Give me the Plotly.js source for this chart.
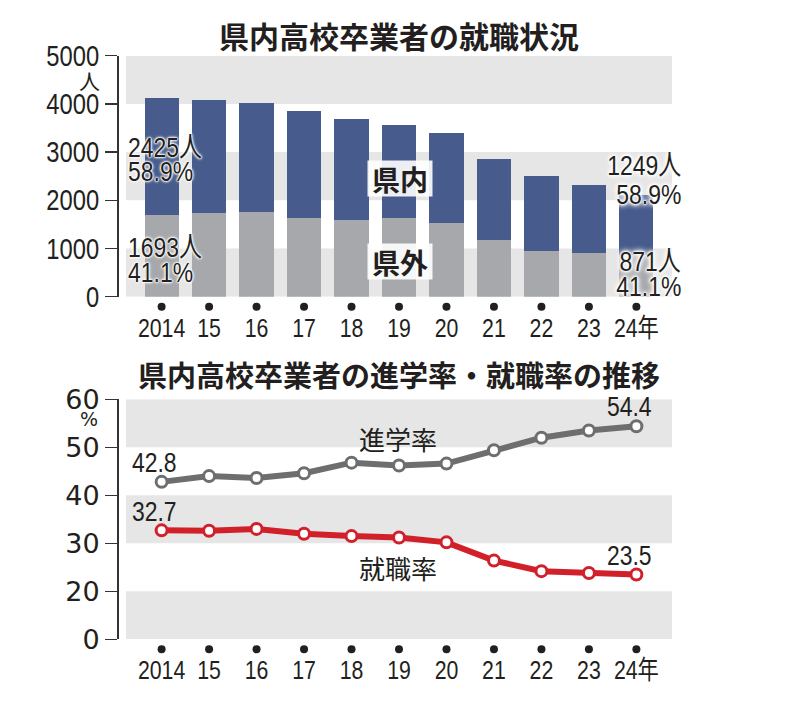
<!DOCTYPE html>
<html><head><meta charset="utf-8">
<script src="https://cdn.plot.ly/plotly-3.0.1.min.js"></script>
<style>body{margin:0;background:#fff}</style>
</head><body><div id="chart" style="width:810px;height:702px"></div>
<script>
// ---- data ----
const years = ['2014','15','16','17','18','19','20','21','22','23','24年'];
const kengai = [1693,1731,1752,1640,1599,1627,1537,1177,949,900,871];      // 県外 (gray)
const kennai = [2425,2352,2276,2222,2083,1944,1855,1688,1557,1413,1249];   // 県内 (blue)
const shingaku = [42.8,44.0,43.6,44.6,46.8,46.2,46.6,49.4,52.0,53.5,54.4]; // 進学率
const shushoku = [32.7,32.6,33.0,32.0,31.5,31.2,30.2,26.4,24.2,23.8,23.5]; // 就職率
const topTicks = [0,1000,2000,3000,4000,5000];
const botTickVals = [10,20,30,40,50,60];
const botTickText = ['0','20','30','40','50','60'];

// ---- style ----
const W = 810, H = 702;
const NARROW = '"Liberation Sans","Noto Sans CJK JP",sans-serif';
const CJK = '"Noto Sans CJK JP",sans-serif';
const INK = '#231f20';
const BAND = '#e6e6e6';
const SQUEEZE = 0.82;
const py = p => 1 - p / H;
const px = p => p / W;

const traces = [
  {type:'bar', x: years, y: kengai, marker:{color:'#a7a8ab'}, xaxis:'x', yaxis:'y', hoverinfo:'skip'},
  {type:'bar', x: years, y: kennai, marker:{color:'#475c8c'}, xaxis:'x', yaxis:'y', hoverinfo:'skip'},
  {type:'scatter', mode:'lines+markers', x: years, y: shingaku, xaxis:'x2', yaxis:'y2', cliponaxis:false,
   line:{color:'#6d6e70', width:6}, marker:{size:11, color:'#fff', line:{color:'#6d6e70', width:3}}},
  {type:'scatter', mode:'lines+markers', x: years, y: shushoku, xaxis:'x2', yaxis:'y2', cliponaxis:false,
   line:{color:'#d2202a', width:6}, marker:{size:11, color:'#fff', line:{color:'#d2202a', width:3}}}
];

const shapes = [];
[[4000,5000],[2000,3000],[0,1000]].forEach(b => shapes.push({type:'rect', layer:'below', xref:'x domain', x0:0, x1:1, yref:'y', y0:b[0], y1:b[1], fillcolor:BAND, line:{width:0}}));
[[50,60],[30,40],[10,20]].forEach(b => shapes.push({type:'rect', layer:'below', xref:'x2 domain', x0:0, x1:1, yref:'y2', y0:b[0], y1:b[1], fillcolor:BAND, line:{width:0}}));
years.forEach((c, i) => {
  shapes.push({type:'circle', xref:'x', xsizemode:'pixel', xanchor:i, x0:-4, x1:4, yref:'paper', ysizemode:'pixel', yanchor:py(306.7), y0:-4, y1:4, fillcolor:INK, line:{width:0}});
  shapes.push({type:'circle', xref:'x2', xsizemode:'pixel', xanchor:i, x0:-4, x1:4, yref:'paper', ysizemode:'pixel', yanchor:py(649.3), y0:-4, y1:4, fillcolor:INK, line:{width:0}});
});

const last = years.length - 1;
const tot0 = kengai[0] + kennai[0], totL = kengai[last] + kennai[last];
const pct = (a, t) => (a / t * 100).toFixed(1) + '%';
const ann = [];
function T(text, x, y, size, opt) {
  ann.push(Object.assign({text, xref:'paper', yref:'paper', x:px(x), y:py(y), xanchor:'center', yanchor:'middle', showarrow:false,
    font:{family:NARROW, size, color:INK}}, opt || {}));
}
// titles
T('県内高校卒業者の就職状況', 399, 35, 30, {font:{family:CJK, size:30, color:INK, weight:700}});
T('県内高校卒業者の進学率・就職率の推移', 399, 374, 29, {font:{family:CJK, size:29, color:INK, weight:700}});
// units
T('人', 89, 80, 21, {font:{family:CJK, size:21, color:INK}});
T('%', 89, 419, 20, {font:{family:'DejaVu Sans', size:19, color:INK}});
// top value labels
const halo = '0 0 1px #fff, 0 0 1px #fff, 0 0 2px #fff, 0 0 2px #fff, 0 0 3px #fff, 0 0 4px #fff';
const strongHalo = '0 0 1px #fff, 0 0 2px #fff, 0 0 2px #fff, 0 0 3px #fff, 0 0 4px #fff, 0 0 5px #fff, 0 0 6px #fff, 0 0 7px #fff';
const hf = (s, sh) => ({family:NARROW, size:s, color:INK, shadow:sh});
const L = {xanchor:'left', align:'left'}, R = {xanchor:'right', align:'right'};
T(kennai[0] + '人', 126, 147, 28, Object.assign({font:hf(28, halo)}, L));
T(pct(kennai[0], tot0), 126, 172, 28, Object.assign({font:hf(28, halo)}, L));
T(kengai[0] + '人', 126, 247, 28, Object.assign({font:hf(28, halo)}, L));
T(pct(kengai[0], tot0), 126, 272, 28, Object.assign({font:hf(28, halo)}, L));
T(kennai[last] + '人', 683, 166, 28, Object.assign({font:hf(28, strongHalo)}, R));
T(pct(kennai[last], totL), 683, 194, 28, Object.assign({font:hf(28, strongHalo)}, R));
T(kengai[last] + '人', 683, 261, 28, Object.assign({font:hf(28, strongHalo)}, R));
T(pct(kengai[last], totL), 683, 286, 28, Object.assign({font:hf(28, strongHalo)}, R));
// series name boxes
T('県内', 400, 178, 28, {width:64, height:35, bgcolor:'rgba(255,255,255,0.9)', borderpad:0, font:{family:CJK, size:28, color:INK, weight:700}});
T('県外', 400, 262, 28, {width:64, height:35, bgcolor:'rgba(255,255,255,0.9)', borderpad:0, font:{family:CJK, size:28, color:INK, weight:700}});
// line labels
T('進学率', 398, 438, 26, {font:{family:CJK, size:26, color:INK}});
T('就職率', 398, 567, 26, {font:{family:CJK, size:26, color:INK}});
// end values of lines
const lf = {family:NARROW, size:28, color:INK};
ann.push({text: shingaku[0].toFixed(1), xref:'x2', yref:'y2', x: 0, y: shingaku[0], xshift:-7, yshift:19, showarrow:false, font:lf});
ann.push({text: shushoku[0].toFixed(1), xref:'x2', yref:'y2', x: 0, y: shushoku[0], xshift:-7, yshift:19, showarrow:false, font:lf});
ann.push({text: shingaku[last].toFixed(1), xref:'x2', yref:'y2', x: last, y: shingaku[last], xshift:-7, yshift:20, showarrow:false, font:lf});
ann.push({text: shushoku[last].toFixed(1), xref:'x2', yref:'y2', x: last, y: shushoku[last], xshift:-7, yshift:19, showarrow:false, font:lf});

const xCommon = {type:'category', range:[-0.75, 10.75], domain:[px(126), px(672)], showgrid:false, zeroline:false, showline:false,
  ticks:'outside', ticklen:8, tickcolor:'rgba(0,0,0,0)', tickfont:{family:NARROW, size:26, color:INK}, fixedrange:true};
const yCommon = {anchor:'free', position:px(117), showgrid:false, zeroline:false, showline:true, linecolor:'#333', linewidth:1.5,
  ticks:'outside', ticklen:12, tickwidth:1.5, tickcolor:'#333', fixedrange:true};

const layout = {
  width:W, height:H, margin:{l:0, r:0, t:0, b:0}, paper_bgcolor:'#fff', plot_bgcolor:'rgba(0,0,0,0)',
  showlegend:false, barmode:'stack', bargap:0.28,
  xaxis: Object.assign({}, xCommon, {anchor:'y'}),
  yaxis: Object.assign({}, yCommon, {domain:[py(296.7), py(55.7)], range:[0,5000], tickvals:topTicks,
     tickfont:{family:NARROW, size:29, color:INK}}),
  xaxis2: Object.assign({}, xCommon, {anchor:'y2'}),
  yaxis2: Object.assign({}, yCommon, {domain:[py(639.3), py(399.3)], range:[10,60], tickvals:botTickVals, ticktext:botTickText,
     tickfont:{family:'DejaVu Sans', size:27, color:INK}}),
  shapes, annotations: ann
};

// horizontally condense texts set in the narrow (Liberation) face, mimicking a condensed typeface
function squeeze(el) {
  const bb = el.getBBox();
  const a = el.getAttribute('text-anchor') || 'start';
  const cx = a === 'end' ? bb.x + bb.width : a === 'middle' ? bb.x + bb.width / 2 : bb.x;
  const t = el.getAttribute('transform') || '';
  el.setAttribute('transform', t + ` translate(${cx},0) scale(${SQUEEZE},1) translate(${-cx},0)`);
}
Plotly.newPlot('chart', traces, layout, {staticPlot:true}).then(gd => {
  gd.querySelectorAll('.xtick text, .x2tick text, .ytick text').forEach(squeeze);
  gd.querySelectorAll('text.annotation-text').forEach(el => {
    if ((el.style.fontFamily || '').indexOf('Liberation') >= 0) squeeze(el);
  });
});
</script></body></html>
